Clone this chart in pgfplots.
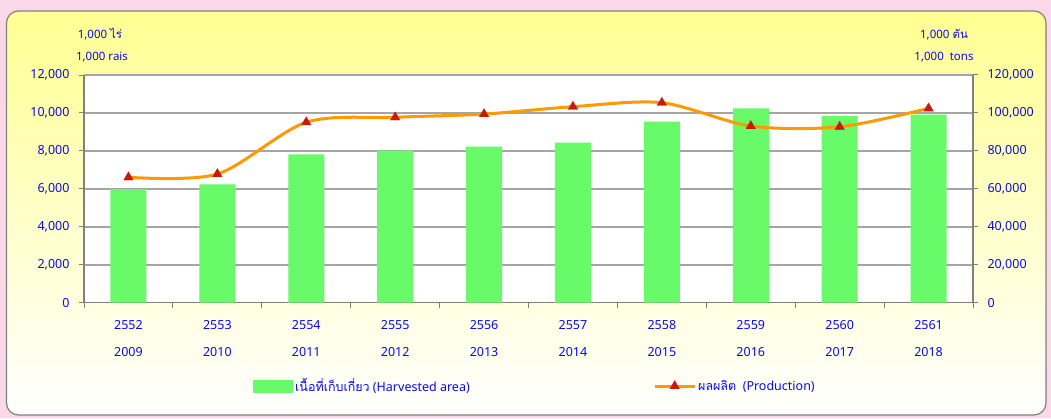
\documentclass[border=0pt]{standalone}
\usepackage{fontspec}
\setmainfont{Noto Sans}
\newfontfamily\thai[Script=Thai]{Loma}
\usepackage{pgfplots}
\pgfplotsset{compat=1.18}
\definecolor{pinkbg}{RGB}{250,216,232}
\definecolor{panelyellow}{RGB}{255,255,145}
\definecolor{bargreen}{RGB}{104,250,104}
\definecolor{lineorange}{RGB}{255,153,0}
\definecolor{markred}{RGB}{200,25,10}
\definecolor{txtblue}{RGB}{10,10,240}
\definecolor{gridgray}{RGB}{165,165,165}
\definecolor{axisgray}{RGB}{128,128,128}

\pgfplotstableread{
x area prod
0 5980 66100
1 6240 67800
2 7820 95100
3 8010 97700
4 8220 99400
5 8430 103300
6 9540 105400
7 10240 93100
8 9850 92700
9 9910 102400
}\datatable

\newcommand{\tickfont}{\fontsize{12.5}{27}\selectfont}
\newcommand{\unitfont}{\fontsize{11.5}{13}\selectfont}

\begin{document}
\begin{tikzpicture}[x=1pt,y=1pt]
\fill[pinkbg] (0,0) rectangle (1051,418);
\draw[axisgray, line width=1.2pt, top color=panelyellow, bottom color=white, rounded corners=12pt] (6.5,3) rectangle (1046,407);

\node[text=txtblue, font=\unitfont, anchor=center] at (100,384) {1,000 {\thai ไร่}};
\node[text=txtblue, font=\unitfont, anchor=center] at (102,361) {1,000 rais};
\node[text=txtblue, font=\unitfont, anchor=center] at (944,383) {1,000 {\thai ตัน}};
\node[text=txtblue, font=\unitfont, anchor=center] at (944,361) {1,000\ \ tons};

\begin{axis}[
  at={(84pt,115.3pt)}, anchor=south west,
  scale only axis, width=889pt, height=227.7pt,
  xmin=-0.5, xmax=9.5, ymin=0, ymax=12000,
  axis background/.style={fill=white},
  axis x line*=bottom, axis y line*=left,
  axis line style={-, draw=axisgray, line width=1.5pt},
  ybar, bar width=36pt,
  scaled y ticks=false, scaled x ticks=false,
  ytick={0,2000,4000,6000,8000,10000,12000},
  yticklabels={0,{2,000},{4,000},{6,000},{8,000},{10,000},{12,000}},
  ymajorgrids, major grid style={draw=gridgray, line width=1.5pt},
  tick align=outside, major tick length=5pt,
  tick style={draw=axisgray, line width=1pt},
  xtick={0,1,2,3,4,5,6,7,8,9},
  xticklabels={{2552\\2009},{2553\\2010},{2554\\2011},{2555\\2012},{2556\\2013},{2557\\2014},{2558\\2015},{2559\\2016},{2560\\2017},{2561\\2018}},
  xticklabel style={align=center, font=\tickfont, text=txtblue, yshift=-9pt},
  xtick style={draw=none},
  extra x ticks={-0.5,0.5,1.5,2.5,3.5,4.5,5.5,6.5,7.5,8.5,9.5},
  extra x tick labels={},
  extra x tick style={xtick style={draw=axisgray, line width=1pt}},
  yticklabel style={font=\tickfont, text=txtblue, xshift=-6pt},
  legend style={at={(0.1901,-0.366)}, anchor=west, draw=none, fill=none, inner sep=0pt, font=\tickfont, text=txtblue},
  legend image code/.code={\fill[bargreen] (0pt,-6.5pt) rectangle (40pt,6.5pt);},
]
\addplot[fill=bargreen, draw=none] table[x=x, y=area] {\datatable};
\addlegendentry{{\thai เนื้อที่เก็บเกี่ยว} (Harvested area)}
\end{axis}

\begin{axis}[
  at={(84pt,115.3pt)}, anchor=south west,
  scale only axis, width=889pt, height=227.7pt,
  xmin=-0.5, xmax=9.5, ymin=0, ymax=120000,
  axis x line=none, axis y line*=right,
  axis line style={-, draw=axisgray, line width=1.5pt},
  scaled y ticks=false, scaled x ticks=false,
  ytick={0,20000,40000,60000,80000,100000,120000},
  yticklabels={0,{20,000},{40,000},{60,000},{80,000},{100,000},{120,000}},
  tick align=outside, major tick length=5pt,
  tick style={draw=axisgray, line width=1pt},
  yticklabel style={font=\tickfont, text=txtblue, xshift=6pt},
  legend style={at={(0.640,-0.366)}, anchor=west, draw=none, fill=none, inner sep=0pt, font=\tickfont, text=txtblue},
  legend image code/.code={\draw[#1, mark repeat=2, mark phase=2] plot coordinates {(0pt,0pt) (20pt,0pt) (40pt,0pt)};},
]
\addplot[lineorange, line width=3pt, smooth, tension=0.5, mark=triangle*, mark size=5.5pt,
  mark options={fill=markred, draw=markred, line width=0.3pt}] table[x=x, y=prod] {\datatable};
\addlegendentry{{\thai ผลผลิต}\ \ (Production)}
\end{axis}
\end{tikzpicture}
\end{document}
